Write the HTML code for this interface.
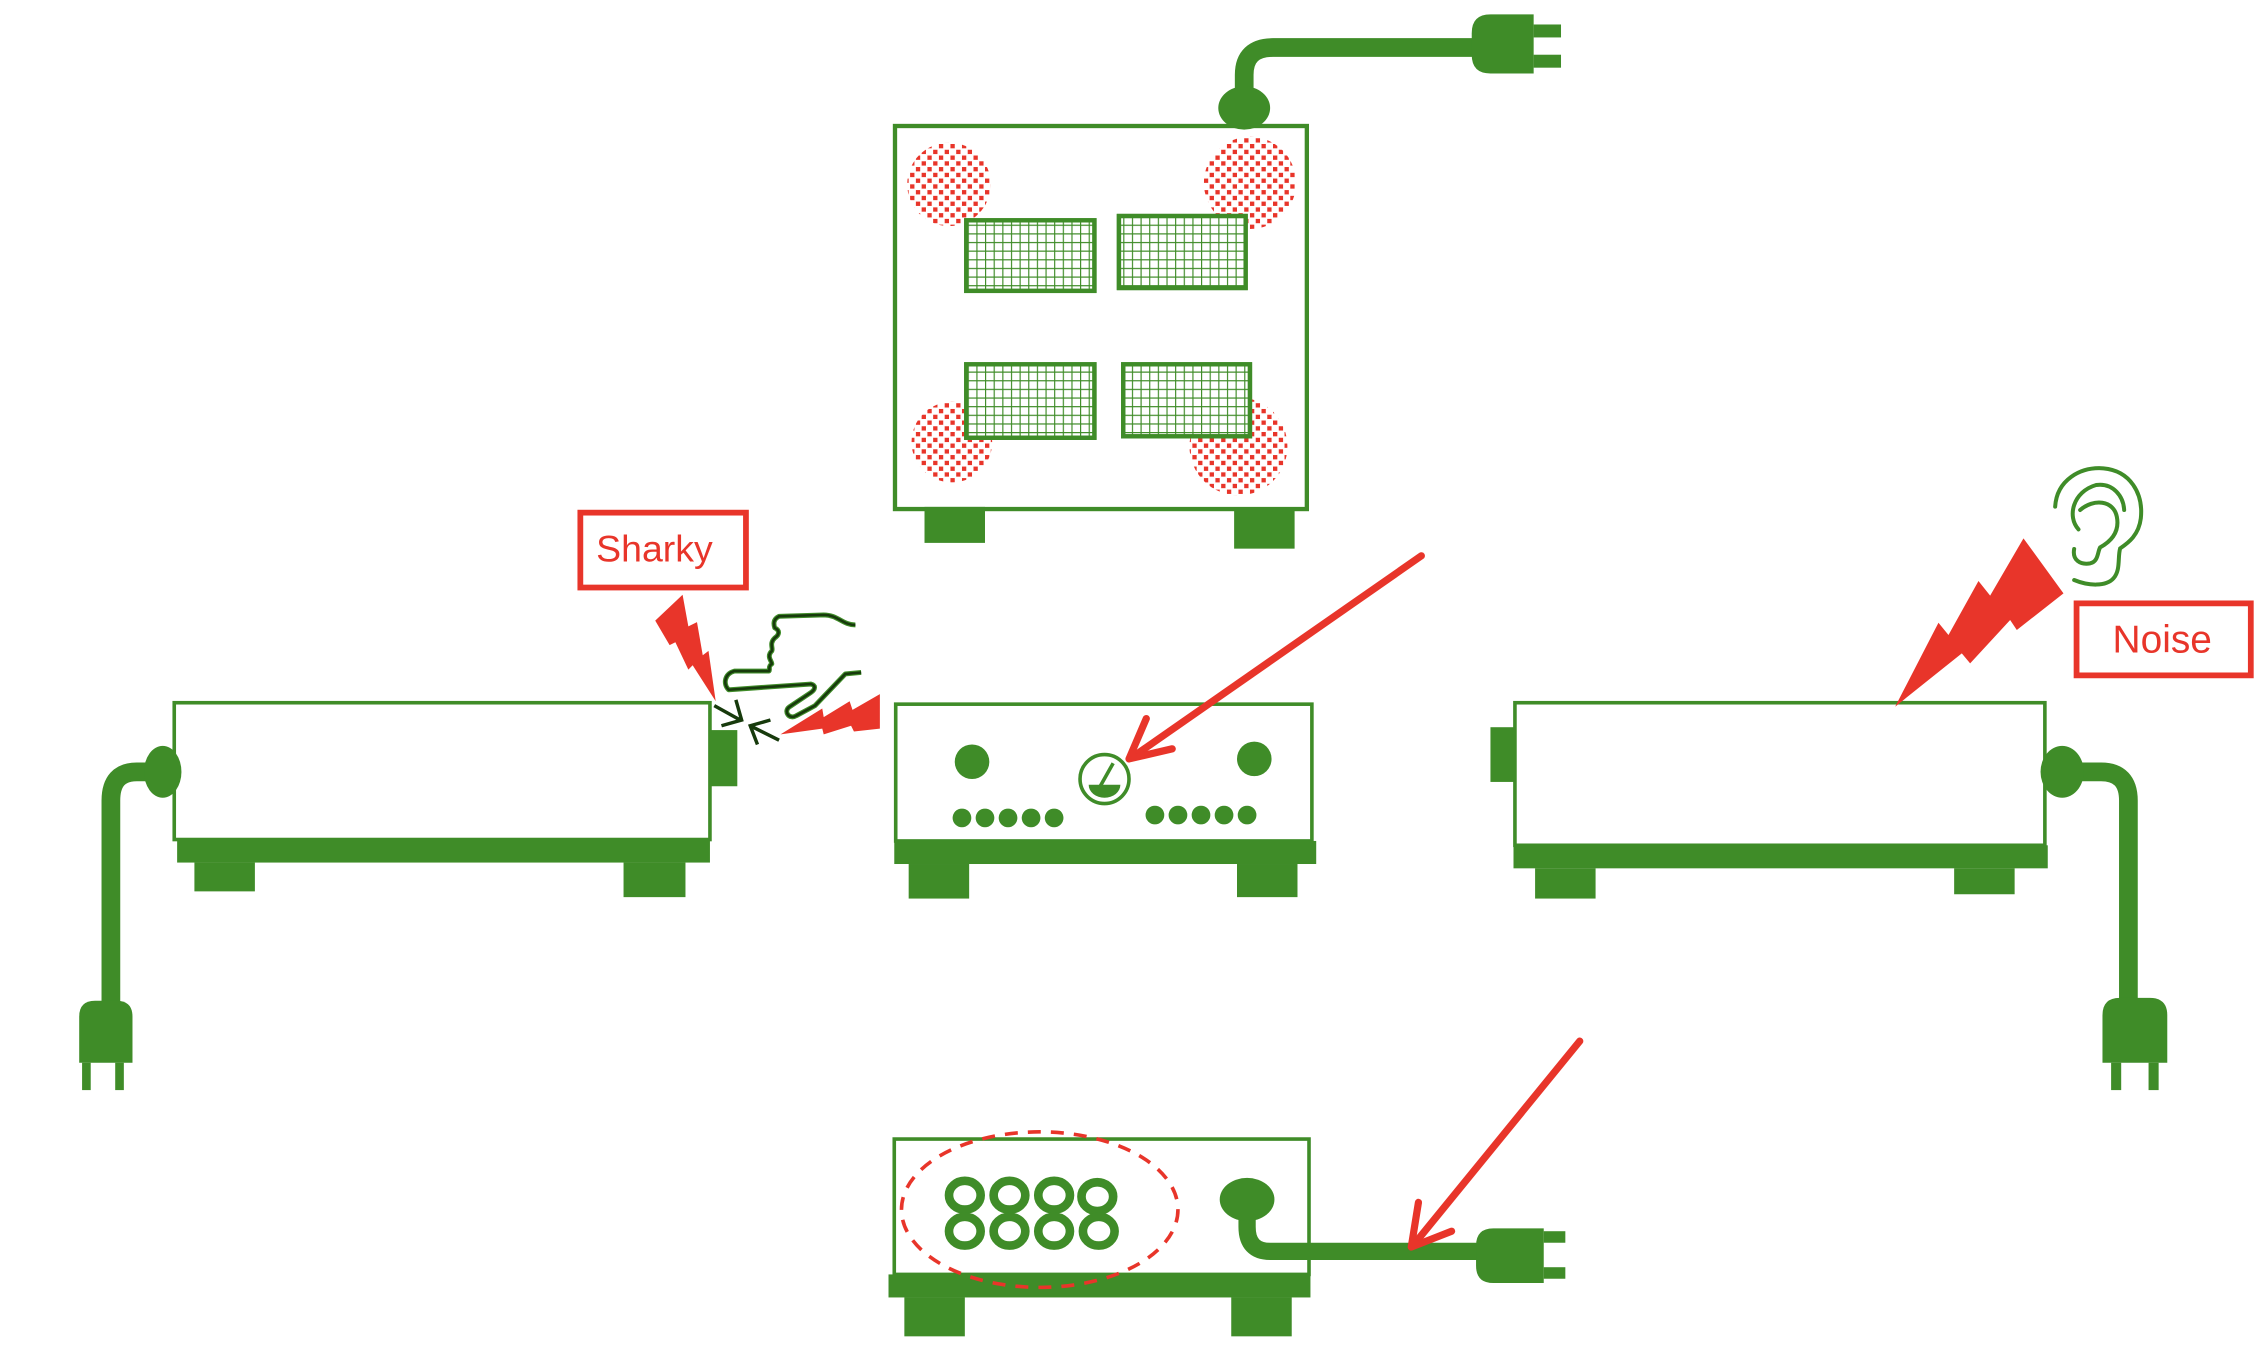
<!DOCTYPE html>
<html><head><meta charset="utf-8"><style>html,body{margin:0;padding:0;background:#fff;}svg{display:block}</style></head>
<body>
<svg width="2258" height="1366" viewBox="0 0 1568 948.6" preserveAspectRatio="none" xmlns="http://www.w3.org/2000/svg">
<defs>
<pattern id="mesh" width="6" height="6" patternUnits="userSpaceOnUse">
<path d="M0,0H6M0,0V6" stroke="#3f8c28" stroke-width="1.6" fill="none"/>
</pattern>
<pattern id="dots" width="8" height="8" patternUnits="userSpaceOnUse">
<rect x="0" y="0" width="3" height="3" fill="#e8352a"/>
<rect x="4" y="4" width="3" height="3" fill="#e8352a"/>
</pattern>
</defs>
<g fill="#3f8c28" stroke="none">
<circle cx="659" cy="128" r="29" fill="url(#dots)"/>
<circle cx="868" cy="127" r="32" fill="url(#dots)"/>
<circle cx="661" cy="307" r="28" fill="url(#dots)"/>
<circle cx="860" cy="310" r="34" fill="url(#dots)"/>
<rect x="621.5" y="87.5" width="286" height="266" fill="none" stroke="#3f8c28" stroke-width="3"/>
<g stroke="#3f8c28" stroke-width="3">
<rect x="671" y="153" width="89" height="49" fill="#fff"/><rect x="671" y="153" width="89" height="49" fill="url(#mesh)"/>
<rect x="777" y="150" width="88" height="50" fill="#fff"/><rect x="777" y="150" width="88" height="50" fill="url(#mesh)"/>
<rect x="671" y="253" width="89" height="51" fill="#fff"/><rect x="671" y="253" width="89" height="51" fill="url(#mesh)"/>
<rect x="780" y="253" width="88" height="50" fill="#fff"/><rect x="780" y="253" width="88" height="50" fill="url(#mesh)"/>
</g>
<rect x="642" y="352" width="42" height="25"/>
<rect x="857" y="354" width="42" height="27"/>
<path d="M864,74 V52 Q864,33 884,33 H1025" fill="none" stroke="#3f8c28" stroke-width="13"/>
<ellipse cx="864" cy="75" rx="18" ry="15"/>
<path d="M1035,10 H1065 V51 H1035 Q1022,51 1022,38 V23 Q1022,10 1035,10Z"/>
<rect x="1065" y="17" width="19" height="9"/>
<rect x="1065" y="38" width="19" height="9"/>

<rect x="121" y="488" width="372" height="95" fill="none" stroke="#3f8c28" stroke-width="2.5"/>
<rect x="123" y="583" width="370" height="16"/>
<rect x="135" y="599" width="42" height="20"/>
<rect x="433" y="599" width="43" height="24"/>
<rect x="493" y="507" width="19" height="39"/>
<path d="M110,536 H95 Q77,536 77,556 V700" fill="none" stroke="#3f8c28" stroke-width="13"/>
<ellipse cx="113" cy="536" rx="13" ry="18"/>
<path d="M55,738 V706 Q55,695 66,695 H81 Q92,695 92,706 V738Z"/>
<rect x="57" y="738" width="6" height="19"/>
<rect x="80" y="738" width="6" height="19"/>

<rect x="622" y="489" width="289" height="95" fill="none" stroke="#3f8c28" stroke-width="2.5"/>
<rect x="621" y="584" width="293" height="16"/>
<rect x="631" y="600" width="42" height="24"/>
<rect x="859" y="600" width="42" height="23"/>
<circle cx="675" cy="529" r="12"/>
<circle cx="871" cy="527" r="12"/>
<circle cx="668" cy="568" r="6.5"/><circle cx="684" cy="568" r="6.5"/><circle cx="700" cy="568" r="6.5"/><circle cx="716" cy="568" r="6.5"/><circle cx="732" cy="568" r="6.5"/>
<circle cx="802" cy="566" r="6.5"/><circle cx="818" cy="566" r="6.5"/><circle cx="834" cy="566" r="6.5"/><circle cx="850" cy="566" r="6.5"/><circle cx="866" cy="566" r="6.5"/>
<circle cx="767" cy="541" r="17" fill="none" stroke="#3f8c28" stroke-width="2.5"/>
<path d="M756,545 H778 A11,9 0 0 1 756,545Z"/>
<path d="M764,546 L773,530" stroke="#3f8c28" stroke-width="2.5"/>

<rect x="1052" y="488" width="368" height="99" fill="none" stroke="#3f8c28" stroke-width="2.5"/>
<rect x="1051" y="587" width="371" height="16"/>
<rect x="1066" y="603" width="42" height="21"/>
<rect x="1357" y="603" width="42" height="18"/>
<rect x="1035" y="505" width="16" height="38"/>
<path d="M1435,536 H1459 Q1478,536 1478,556 V700" fill="none" stroke="#3f8c28" stroke-width="13"/>
<ellipse cx="1432" cy="536" rx="15" ry="18"/>
<path d="M1460,738 V705 Q1460,693 1472,693 H1493 Q1505,693 1505,705 V738Z"/>
<rect x="1466" y="738" width="7" height="19"/>
<rect x="1492" y="738" width="7" height="19"/>

<rect x="621" y="791" width="288" height="94" fill="none" stroke="#3f8c28" stroke-width="2.5"/>
<rect x="617" y="885" width="293" height="16"/>
<rect x="628" y="901" width="42" height="27"/>
<rect x="855" y="901" width="42" height="27"/>
<g fill="none" stroke="#3f8c28" stroke-width="6">
<ellipse cx="670" cy="830" rx="11" ry="10"/><ellipse cx="701" cy="830" rx="11" ry="10"/><ellipse cx="732" cy="830" rx="11" ry="10"/><ellipse cx="762" cy="831" rx="11" ry="10"/>
<ellipse cx="670" cy="855" rx="11" ry="10"/><ellipse cx="701" cy="855" rx="11" ry="10"/><ellipse cx="732" cy="855" rx="11" ry="10"/><ellipse cx="763" cy="855" rx="11" ry="10"/>
</g>
<ellipse cx="722" cy="840" rx="96" ry="54" fill="none" stroke="#e8352a" stroke-width="2.5" stroke-dasharray="9,7"/>
<path d="M866,835 V852 Q866,869 882,869 H1030" fill="none" stroke="#3f8c28" stroke-width="12"/>
<ellipse cx="866" cy="833" rx="19" ry="15"/>
<path d="M1037,853 H1072 V891 H1037 Q1025,891 1025,879 V865 Q1025,853 1037,853Z"/>
<rect x="1072" y="855" width="15" height="8"/>
<rect x="1072" y="880" width="15" height="8"/>
</g>

<g stroke="#e8352a" stroke-width="5" fill="none" stroke-linecap="round">
<path d="M987,386 L786,526"/>
<path d="M784,527 L796,499 M784,527 L814,520"/>
<path d="M1097,723 L982,864"/>
<path d="M980,866 L985,835 M980,866 L1008,855"/>
</g>

<rect x="403" y="356" width="115" height="52" fill="none" stroke="#e8352a" stroke-width="4"/>
<text x="414" y="390" font-family="Liberation Sans, sans-serif" font-size="26" fill="#e8352a">Sharky</text>
<polygon fill="#e8352a" points="455,431 465,448 469,446 478,465 481,462 497,487 492,452 488,455 484,432 478,435 474,413"/>
<polygon fill="#e8352a" points="542,510 571,492 572,498 590,487 592,493 611,482 611,506 593,508 591,504 572,510 571,506"/>
<path d="M594,434 C585,434 582,427 572,427 L541,428 C537,430 537,433 538,436 C542,438 541,441 538,443 C534,447 537,450 536,452 C532,456 536,459 536,461 C533,463 535,465 534,466 L510,466 C503,468 502,475 506,479 L563,475 C567,476 566,479 563,481 L548,491 C544,494 548,500 553,497 L566,490 L587,468 L598,467" fill="none" stroke="#3f8c28" stroke-width="3.4" stroke-linejoin="round"/>
<path d="M594,434 C585,434 582,427 572,427 L541,428 C537,430 537,433 538,436 C542,438 541,441 538,443 C534,447 537,450 536,452 C532,456 536,459 536,461 C533,463 535,465 534,466 L510,466 C503,468 502,475 506,479 L563,475 C567,476 566,479 563,481 L548,491 C544,494 548,500 553,497 L566,490 L587,468 L598,467" fill="none" stroke="#173a0c" stroke-width="1.8" stroke-linejoin="round"/>
<g stroke="#173a0c" stroke-width="2.4" fill="none">
<path d="M496,490 L514,500 M511,486 L515,500 L501,504"/>
<path d="M541,514 L521,504 M535,500 L521,504 L526,517"/>
</g>

<g transform="translate(1305.6,312.5) scale(0.2315)">
<polygon fill="#e8352a" points="45,770 175,518 205,555 295,393 330,437 430,265 550,430 410,540 390,510 270,640 245,610"/>
<g fill="none" stroke="#3f8c28" stroke-width="12" stroke-linecap="round">
<path d="M525,170 C530,90 600,50 670,55 C750,62 790,130 782,205 C776,255 745,278 720,295 C712,322 722,360 700,385 C678,410 625,408 582,390"/>
<path d="M595,238 C560,200 578,125 648,105 C700,98 730,140 732,180"/>
<path d="M582,297 C576,330 600,345 630,340 C655,335 652,305 660,292 C700,270 718,240 710,200 C700,150 640,145 600,180"/>
</g>
</g>
<rect x="1442" y="419" width="121" height="50" fill="none" stroke="#e8352a" stroke-width="4"/>
<text x="1467" y="453" font-family="Liberation Sans, sans-serif" font-size="27" fill="#e8352a">Noise</text>
</svg>
</body></html>
